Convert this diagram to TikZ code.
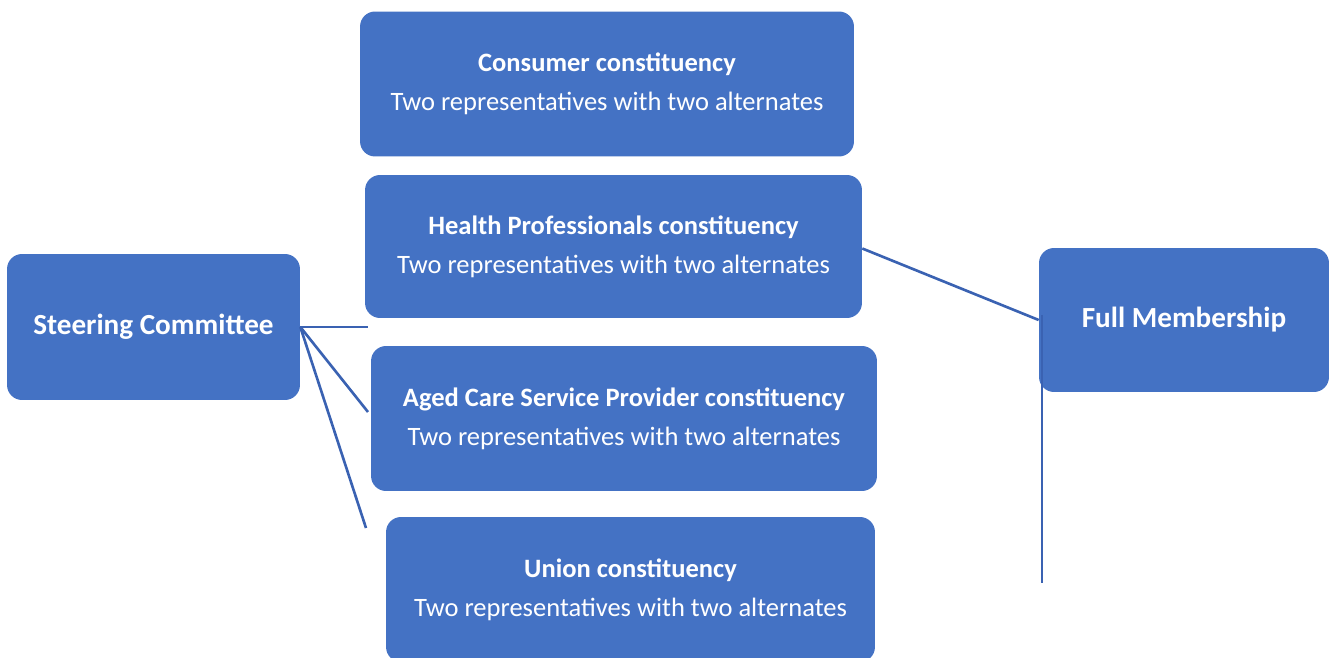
\documentclass[tikz,border=0pt]{standalone}
\usepackage{fontspec}
\setmainfont{Carlito}
\begin{document}
\begin{tikzpicture}[x=0.02cm, y=-0.02cm, font=\fontsize{15.1}{22.1}\selectfont,
		box/.style={fill=boxblue, rounded corners=0.3cm, text=white, align=center, inner sep=0pt},
		side/.style={box, font=\fontsize{16.6}{20}\selectfont\bfseries},
		link/.style={draw=lineblue, line width=1.5pt}]
	\definecolor{boxblue}{RGB}{68,114,196}
	\definecolor{lineblue}{RGB}{58,98,178}
	
	\useasboundingbox (0,0) rectangle (1330,658);
	
	% 四个小组
	\node[box, minimum width=9.88cm, minimum height=2.9cm] (consumer) at (607,84)
	{\textbf{Consumer constituency}\\Two representatives with two alternates};
	\node[box, minimum width=9.94cm, minimum height=2.86cm] (health) at (613.5,246.5)
	{\textbf{Health Professionals constituency}\\Two representatives with two alternates};
	\node[box, minimum width=10.12cm, minimum height=2.9cm] (aged) at (624,418.5)
	{\textbf{Aged Care Service Provider constituency}\\Two representatives with two alternates};
	\node[box, minimum width=9.78cm, minimum height=2.9cm] (union) at (630.5,589.5)
	{\textbf{Union constituency}\\Two representatives with two alternates};
	
	% 左右两侧
	\node[side, minimum width=5.86cm, minimum height=2.92cm] (steering) at (153.5,327)
	{Steering Committee};
	\node[side, minimum width=5.8cm, minimum height=2.88cm] (full) at (1184,320)
	{Full Membership};
	
	% 连线的自由端点
	\coordinate (sc1) at (368,327);
	\coordinate (sc2) at (368,412);
	\coordinate (sc3) at (366,528);
	\coordinate (fmEnd) at (1042,583);
	
	\draw[link] (steering.east) -- (sc1);
	\draw[link] (steering.east) -- (sc2);
	\draw[link] (steering.east) -- (sc3);
	\draw[link] ([yshift=-0.04cm]health.east) -- (full.west);
	\draw[link] ([yshift=0.1cm]fmEnd |- full.west) -- (fmEnd);
\end{tikzpicture}
\end{document}
